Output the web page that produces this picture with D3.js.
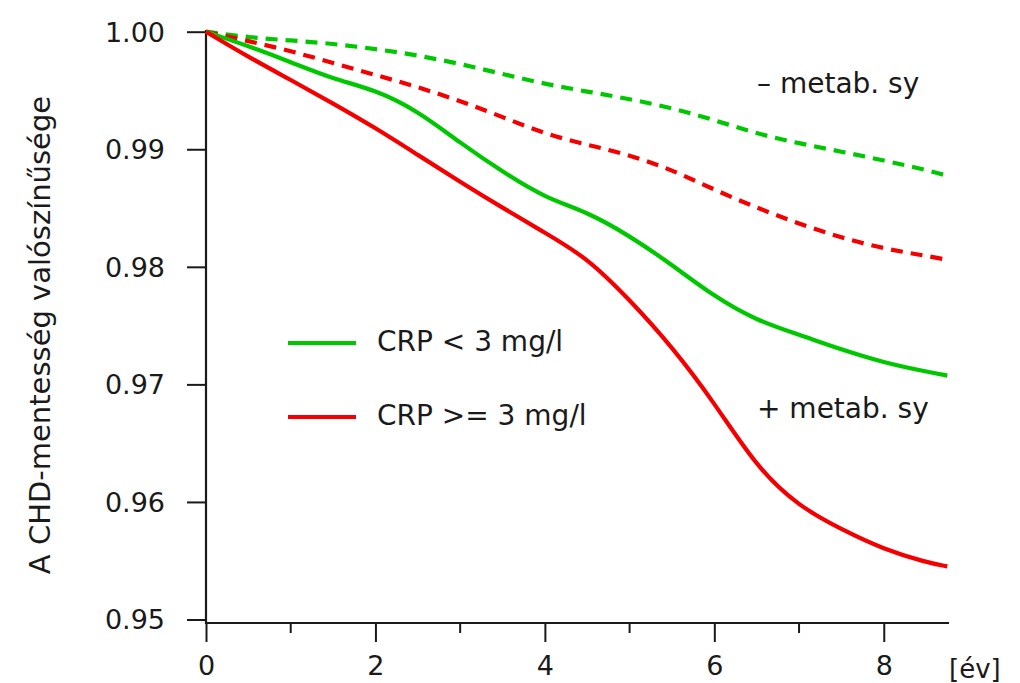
<!DOCTYPE html>
<html>
<head>
<meta charset="utf-8">
<script src="https://cdn.jsdelivr.net/npm/d3@7"></script>
<style>
  body { margin: 0; background: #fff; }
  svg { display: block; }
  text { font-family: "DejaVu Sans", Verdana, sans-serif; fill: #1a1a1a; }
</style>
</head>
<body>
<svg id="chart" width="1020" height="683"></svg>
<script>
// time points (years)
const years = [0, 0.5, 1, 1.5, 2, 2.5, 3, 3.5, 4, 4.5, 5, 5.5, 6, 6.5, 7, 7.5, 8, 8.5, 8.75];

// CRP < 3, no metabolic syndrome (green dashed)
const lowCrpNoMs = [1.0, 0.99951, 0.99926, 0.99898, 0.99853, 0.99800, 0.99726, 0.99641, 0.99555, 0.99490,
  0.99428, 0.99351, 0.99250, 0.99132, 0.99050, 0.98980, 0.98905, 0.98825, 0.98774];
// CRP >= 3, no metabolic syndrome (red dashed)
const highCrpNoMs = [1.0, 0.99921, 0.99836, 0.99734, 0.99632, 0.99530, 0.99411, 0.99275, 0.99131, 0.99037,
  0.98952, 0.98825, 0.98655, 0.98502, 0.98366, 0.98247, 0.98154, 0.98094, 0.98060];
// CRP < 3, metabolic syndrome (green solid)
const lowCrpMs = [1.0, 0.99878, 0.99742, 0.99598, 0.99505, 0.99326, 0.99054, 0.98808, 0.98587, 0.98468,
  0.98264, 0.98018, 0.97746, 0.97542, 0.97423, 0.97296, 0.97185, 0.97109, 0.97075];
// CRP >= 3, metabolic syndrome (red solid)
const highCrpMs = [1.0, 0.99785, 0.99590, 0.99390, 0.99182, 0.98952, 0.98723, 0.98502, 0.98290, 0.98077,
  0.97720, 0.97321, 0.96845, 0.96293, 0.95961, 0.95766, 0.95596, 0.95486, 0.95452];

const yTicks = [0.95, 0.96, 0.97, 0.98, 0.99, 1.00];
const xTicks = [0, 2, 4, 6, 8];
const xMinorTicks = [1, 3, 5, 7];
const legendLabels = ["CRP < 3 mg/l", "CRP >= 3 mg/l"];
const green = "#00c800", red = "#f50000";

const svg = d3.select("#chart");

// scales
const x = d3.scaleLinear().domain([0, 8.77]).range([206, 949]);
const y = d3.scaleLinear().domain([0.95, 1.0]).range([619.5, 31.7]);
const axisY = 623;

// y axis
const yAxis = d3.axisLeft(y).tickValues(yTicks).tickFormat(d3.format(".2f"))
  .tickSize(19).tickPadding(22);
const gy = svg.append("g").attr("transform", "translate(206,0)").call(yAxis);
gy.select(".domain").remove();
gy.selectAll(".tick line").attr("stroke", "#1a1a1a").attr("stroke-width", 2);
gy.selectAll(".tick text").style("font-size", "27px").attr("dy", "0.35em");
svg.append("line").attr("x1", 206).attr("x2", 206).attr("y1", 30).attr("y2", axisY + 1)
  .attr("stroke", "#1a1a1a").attr("stroke-width", 2.2);

// x axis
const xAxis = d3.axisBottom(x).tickValues(xTicks).tickFormat(d3.format("d"))
  .tickSize(19).tickPadding(14);
const gx = svg.append("g").attr("transform", `translate(0,${axisY})`).call(xAxis);
gx.select(".domain").remove();
gx.selectAll(".tick line").attr("stroke", "#1a1a1a").attr("stroke-width", 2);
gx.selectAll(".tick text").style("font-size", "27px");
gx.selectAll(".minor").data(xMinorTicks).enter().append("line")
  .attr("x1", d => x(d)).attr("x2", d => x(d)).attr("y1", 0).attr("y2", 10)
  .attr("stroke", "#1a1a1a").attr("stroke-width", 2);
svg.append("line").attr("x1", 205).attr("x2", 949).attr("y1", axisY).attr("y2", axisY)
  .attr("stroke", "#1a1a1a").attr("stroke-width", 2.2);

svg.append("text").attr("x", 949).attr("y", 678).style("font-size", "26px").text("[év]");

// y title
svg.append("text")
  .attr("transform", "translate(50,335) rotate(-90)")
  .attr("text-anchor", "middle")
  .style("font-size", "29px")
  .text("A CHD-mentesség valószínűsége");

// curves
const line = d3.line()
  .x((d, i) => x(years[i]))
  .y(d => y(d))
  .curve(d3.curveBasis);

const series = [
  { values: lowCrpNoMs, color: green, dash: "12,8" },
  { values: highCrpNoMs, color: red, dash: "12,8" },
  { values: lowCrpMs, color: green, dash: null },
  { values: highCrpMs, color: red, dash: null }
];

svg.selectAll(".curve").data(series).enter().append("path")
  .attr("class", "curve")
  .attr("d", d => line(d.values))
  .attr("fill", "none")
  .attr("stroke", d => d.color)
  .attr("stroke-width", 4.2)
  .attr("stroke-dasharray", d => d.dash);

// legend
const legend = svg.selectAll(".legend").data(legendLabels).enter().append("g")
  .attr("transform", (d, i) => `translate(0,${343 + i * 74})`);
legend.append("line").attr("x1", 288).attr("x2", 356)
  .attr("stroke", (d, i) => i === 0 ? green : red).attr("stroke-width", 4.2);
legend.append("text").attr("x", 377).attr("y", 8).style("font-size", "28px").text(d => d);

// annotations
svg.append("text").attr("x", 757).attr("y", 93).style("font-size", "28px").text("– metab. sy");
svg.append("text").attr("x", 757).attr("y", 418).style("font-size", "28px").text("+ metab. sy");
</script>
</body>
</html>
